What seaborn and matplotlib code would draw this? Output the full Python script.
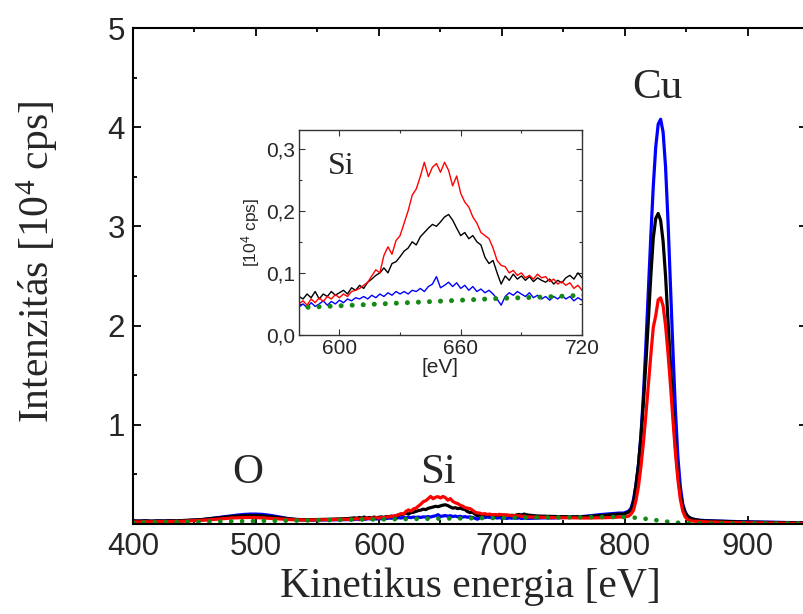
import numpy as np
import pandas as pd
import matplotlib
matplotlib.use("Agg")
import matplotlib.pyplot as plt
import seaborn as sns
from matplotlib.ticker import MultipleLocator, FixedLocator, FuncFormatter

# energy grid [eV]: coarse away from peaks, fine in the Si inset window and the Cu peak
energy_a = list(range(400, 580, 5))
energy_b = list(range(580, 722, 2))
energy_c = list(range(725, 800, 5))
energy_d = list(range(799, 863, 2))
energy_e = list(range(865, 955, 5))
energy = energy_a + energy_b + energy_c + energy_d + energy_e

# intensities [10^4 cps]
blue_a = [.030, .028, .030, .027, .030, .029, .032, .030, .033, .035,
          .038, .042, .050, .058, .066, .075, .083, .090, .096, .100,
          .100, .097, .090, .080, .068, .057, .048, .042, .040, .039,
          .040, .041, .042, .043, .044, .045]
black_a = [.032, .030, .033, .029, .032, .031, .033, .032, .035, .037,
           .040, .044, .050, .056, .063, .070, .076, .081, .085, .087,
           .086, .083, .077, .070, .062, .055, .049, .045, .044, .044,
           .045, .047, .048, .050, .052, .055]
red_a = [.022, .020, .024, .021, .025, .023, .026, .025, .028, .030,
         .033, .036, .040, .045, .050, .055, .060, .063, .065, .066,
         .065, .062, .058, .054, .050, .046, .043, .041, .040, .041,
         .042, .043, .044, .045, .046, .048]

blue_b = [.045, .050, .044, .052, .046, .050, .055, .048, .054, .050,
          .056, .052, .058, .055, .060, .058, .062, .058, .064, .060,
          .066, .062, .068, .064, .070, .066, .070, .066, .072, .070,
          .075, .070, .078, .082, .094, .076, .080, .085, .078, .084,
          .075, .080, .072, .078, .070, .074, .068, .072, .066, .058,
          .048, .062, .068, .064, .070, .066, .062, .068, .060, .064,
          .058, .062, .056, .062, .058, .064, .058, .062, .055, .060,
          .056]
black_b = [.062, .058, .066, .060, .070, .058, .066, .062, .070, .064,
           .068, .072, .066, .076, .072, .080, .075, .085, .090, .096,
           .100, .108, .100, .115, .118, .126, .135, .140, .150, .145,
           .158, .165, .172, .178, .175, .182, .190, .194, .185, .172,
           .160, .165, .155, .160, .150, .145, .125, .115, .120, .100,
           .082, .095, .088, .098, .090, .095, .088, .094, .086, .092,
           .088, .085, .090, .082, .088, .084, .092, .096, .090, .100,
           .092]
red_b = [.050, .055, .048, .058, .052, .060, .054, .062, .058, .065,
         .060, .066, .062, .070, .072, .075, .080, .085, .095, .105,
         .100, .128, .142, .130, .152, .160, .180, .200, .225, .235,
         .255, .278, .255, .270, .276, .262, .278, .265, .240, .256,
         .228, .214, .206, .190, .180, .165, .160, .155, .140, .120,
         .112, .110, .100, .104, .096, .100, .092, .096, .090, .098,
         .092, .094, .086, .090, .082, .086, .080, .084, .075, .080,
         .072]

blue_c = [.058, .060, .062, .060, .063, .065, .067, .070, .075, .080,
          .088, .095, .100, .105, .110]
black_c = [.085, .080, .078, .076, .075, .074, .073, .072, .074, .076,
           .080, .085, .090, .095, .100]
red_c = [.070, .068, .066, .065, .064, .063, .062, .062, .061, .060,
         .061, .062, .064, .066, .070]

blue_d = [.11, .12, .13, .16, .25, .40, .60, .90, 1.30, 1.80,
          2.35, 2.90, 3.40, 3.80, 4.03, 4.08, 3.95, 3.60, 3.05, 2.40,
          1.75, 1.15, .68, .38, .20, .12, .08, .06, .05, .045,
          .040, .038]
black_d = [.10, .11, .12, .15, .22, .40, .60, .88, 1.22, 1.62,
           2.05, 2.50, 2.88, 3.08, 3.13, 3.06, 2.85, 2.50, 2.05, 1.58,
           1.15, .78, .50, .30, .18, .11, .075, .06, .05, .045,
           .040, .035]
red_d = [.07, .075, .08, .10, .14, .24, .38, .58, .82, 1.10,
         1.40, 1.70, 1.98, 2.10, 2.26, 2.28, 2.20, 2.00, 1.72, 1.40,
         1.05, .72, .45, .25, .13, .07, .045, .035, .03, .028,
         .026, .025]

blue_e = [.035, .032, .030, .028, .026, .025, .023, .022, .020, .019,
          .018, .017, .016, .015, .014, .013, .012, .012]
black_e = [.032, .030, .027, .025, .023, .022, .020, .019, .018, .017,
           .016, .015, .014, .013, .012, .012, .011, .011]
red_e = [.022, .020, .018, .016, .015, .014, .013, .012, .011, .010,
         .010, .009, .008, .008, .007, .007, .006, .006]

blue = blue_a + blue_b + blue_c + blue_d + blue_e
black = black_a + black_b + black_c + black_d + black_e
red = red_a + red_b + red_c + red_d + red_e

# background (green dotted)
bg_energy = [400, 420, 440, 460, 480, 500, 520, 540, 560, 580,
             600, 620, 640, 660, 680, 700, 720, 740, 760, 780,
             800, 810, 820, 830, 840, 850, 870, 900, 950]
bg = [.015, .018, .021, .024, .027, .030, .033, .036, .040, .044,
      .047, .050, .053, .056, .059, .061, .064, .066, .068, .070,
      .070, .062, .048, .030, .015, .008, .006, .005, .005]

peak_labels = ["O", "Si", "Cu"]
peak_pos = [(493, 0.52), (648, 0.52), (826, 4.40)]

main_yticks = [0, 1, 2, 3, 4, 5]
main_yticklabels = ["", "1", "2", "3", "4", "5"]
inset_xticks = [600, 660, 720]
inset_yticks = [0.0, 0.1, 0.2, 0.3]

sns.set_style("ticks")
plt.rcParams['font.family'] = ['Liberation Sans', 'DejaVu Sans']
plt.rcParams['mathtext.default'] = 'regular'
SERIF = ['Liberation Serif', 'DejaVu Serif']

df = pd.DataFrame({"E": energy, "blue": blue, "black": black, "red": red})
df_bg = pd.DataFrame({"E": bg_energy, "bg": bg})

fig = plt.figure(figsize=(8.04, 6.14), dpi=100)
ax = fig.add_axes([133 / 804, 90 / 614, 674 / 804, 496 / 614])

colors = {"blue": "#0000ff", "black": "#000000", "red": "#ff0000"}
for col in ["blue", "black", "red"]:
    sns.lineplot(data=df, x="E", y=col, ax=ax, color=colors[col], lw=2.3,
                 estimator=None, sort=False)
sns.lineplot(data=df_bg, x="E", y="bg", ax=ax, color="#138a13", lw=3.4,
             estimator=None, sort=False, linestyle=(0, (0.01, 2.3)),
             dash_capstyle="round")

ax.set_xlim(400, 948)
ax.set_ylim(0, 5)
ax.xaxis.set_major_locator(MultipleLocator(100))
ax.xaxis.set_minor_locator(MultipleLocator(50))
ax.yaxis.set_major_locator(FixedLocator(main_yticks))
ax.set_yticklabels(main_yticklabels)
ax.yaxis.set_minor_locator(MultipleLocator(0.5))
ax.tick_params(which='both', direction='in', top=True, right=True, width=1.3,
               labelsize=22.5, color='black')
ax.tick_params(which='major', length=6, pad=6)
ax.tick_params(which='minor', length=3)
for s in ax.spines.values():
    s.set_linewidth(1.5)
    s.set_color('black')

ax.set_xlabel("Kinetikus energia [eV]", fontsize=30, family=SERIF)
ax.set_ylabel("Intenzitás [10$^4$ cps]", fontsize=30, family=SERIF)
ax.xaxis.set_label_coords(0.5, -0.087)
ax.yaxis.set_label_coords(-0.108, 0.528)

for lab, (x, y) in zip(peak_labels, peak_pos):
    ax.text(x, y, lab, fontsize=31, family=SERIF, ha='center', va='center')

# inset: Si region
axi = fig.add_axes([299 / 804, 279 / 614, 283 / 804, 205 / 614])
for col in ["black", "blue", "red"]:
    sns.lineplot(data=df, x="E", y=col, ax=axi, color=colors[col], lw=1.0,
                 estimator=None, sort=False)
sns.lineplot(data=df_bg, x="E", y="bg", ax=axi, color="#138a13", lw=3.6,
             estimator=None, sort=False, linestyle=(0, (0.01, 2.2)),
             dash_capstyle="round")
axi.set_xlim(580, 720)
axi.set_ylim(0, 0.33)
axi.xaxis.set_major_locator(FixedLocator(inset_xticks))
axi.xaxis.set_minor_locator(MultipleLocator(30))
axi.yaxis.set_major_locator(FixedLocator(inset_yticks))
axi.yaxis.set_minor_locator(MultipleLocator(0.05))
axi.yaxis.set_major_formatter(FuncFormatter(lambda v, p: f"{v:.1f}".replace('.', ',')))
axi.tick_params(which='both', direction='in', top=True, right=True, width=0.8,
                labelsize=15, color='#333333', pad=3)
axi.tick_params(which='major', length=4)
axi.tick_params(which='minor', length=2.5)
for s in axi.spines.values():
    s.set_linewidth(1.0)
    s.set_color('#333333')
axi.set_xlabel("[eV]", fontsize=15, labelpad=0)
axi.set_ylabel("[10$^4$ cps]", fontsize=12.5, labelpad=3)
axi.text(601, 0.272, "Si", fontsize=23, family=SERIF, ha='center', va='center')

fig.savefig("out.png", dpi=100)
